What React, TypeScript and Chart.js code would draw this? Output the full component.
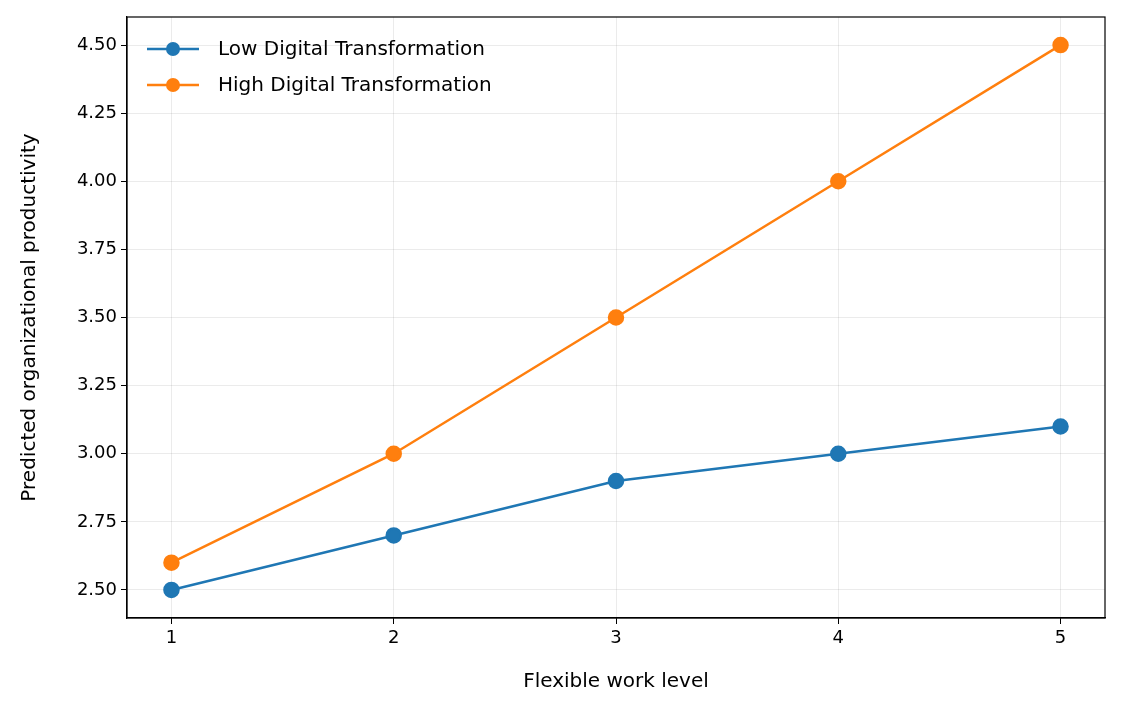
import React, { useEffect, useRef } from "react";
import { Chart, registerables } from "chart.js";
Chart.register(...registerables);

const levels = [1, 2, 3, 4, 5];
const lowDT = [2.5, 2.7, 2.9, 3.0, 3.1];
const highDT = [2.6, 3.0, 3.5, 4.0, 4.5];
const yTicks = [2.5, 2.75, 3.0, 3.25, 3.5, 3.75, 4.0, 4.25, 4.5];
const seriesNames = ["Low Digital Transformation", "High Digital Transformation"];
const colors = ["#1f77b4", "#ff7f0e"];
const FONT = "'DejaVu Sans', sans-serif";

const legendPlugin = {
  id: "inLegend",
  afterDraw(chart: any) {
    const { ctx, chartArea } = chart;
    ctx.save();
    ctx.font = `20px ${FONT}`;
    ctx.textBaseline = "middle";
    seriesNames.forEach((n, i) => {
      const y = chartArea.top + 32 + i * 36;
      const x0 = chartArea.left + 20;
      ctx.strokeStyle = colors[i];
      ctx.lineWidth = 2.5;
      ctx.beginPath();
      ctx.moveTo(x0, y);
      ctx.lineTo(x0 + 52, y);
      ctx.stroke();
      ctx.fillStyle = colors[i];
      ctx.beginPath();
      ctx.arc(x0 + 26, y, 7, 0, Math.PI * 2);
      ctx.fill();
      ctx.fillStyle = "#000";
      ctx.fillText(n, x0 + 71, y + 1);
    });
    ctx.restore();
  },
};

export default function App() {
  const ref = useRef<HTMLCanvasElement>(null);
  useEffect(() => {
    const mk = (d: number[]) => levels.map((x, i) => ({ x, y: d[i] }));
    const chart = new Chart(ref.current!, {
      type: "line",
      data: {
        datasets: [lowDT, highDT].map((d, i) => ({
          label: seriesNames[i],
          data: mk(d),
          borderColor: colors[i],
          backgroundColor: colors[i],
          pointBackgroundColor: colors[i],
          pointBorderColor: colors[i],
          borderWidth: 2.5,
          pointRadius: 7,
          tension: 0,
        })),
      },
      options: {
        animation: false,
        responsive: false,
        layout: { padding: { top: 17, right: 17, left: 0, bottom: 0 } },
        plugins: { legend: { display: false }, tooltip: { enabled: false } },
        scales: {
          x: {
            type: "linear",
            min: 0.8,
            max: 5.2,
            afterBuildTicks: (s: any) => { s.ticks = levels.map((v) => ({ value: v })); },
            afterFit: (s: any) => { s.height = 92; },
            ticks: { color: "#000", font: { family: FONT, size: 18 }, padding: 4 },
            grid: { color: "rgba(0,0,0,0.08)", tickColor: "#000", tickLength: 6 },
            border: { color: "#000", width: 1.2 },
            title: { display: true, text: "Flexible work level", color: "#000", font: { family: FONT, size: 20 }, padding: { top: 6, bottom: 16 } },
          },
          y: {
            min: 2.397,
            max: 4.603,
            afterBuildTicks: (s: any) => { s.ticks = yTicks.map((v) => ({ value: v })); },
            afterFit: (s: any) => { s.width = 127; },
            ticks: { color: "#000", font: { family: FONT, size: 18 }, padding: 4, callback: (v: any) => Number(v).toFixed(2) },
            grid: { color: "rgba(0,0,0,0.08)", tickColor: "#000", tickLength: 6 },
            border: { color: "#000", width: 1.2 },
            title: { display: true, text: "Predicted organizational productivity", color: "#000", font: { family: FONT, size: 20 }, padding: { top: 18, bottom: 8 } },
          },
        },
      },
      plugins: [
        legendPlugin,
        {
          id: "frame",
          afterDraw(c: any) {
            const { ctx, chartArea: a } = c;
            ctx.save();
            ctx.strokeStyle = "#000";
            ctx.lineWidth = 1.2;
            ctx.strokeRect(a.left, a.top, a.right - a.left, a.bottom - a.top);
            ctx.restore();
          },
        },
      ],
    } as any);
    return () => chart.destroy();
  }, []);
  return (
    <div style={{ position: "absolute", left: 0, top: 0, width: 1122, height: 710, background: "#fff" }}>
      <canvas ref={ref} width={1122} height={710} style={{ width: 1122, height: 710 }} />
    </div>
  );
}
